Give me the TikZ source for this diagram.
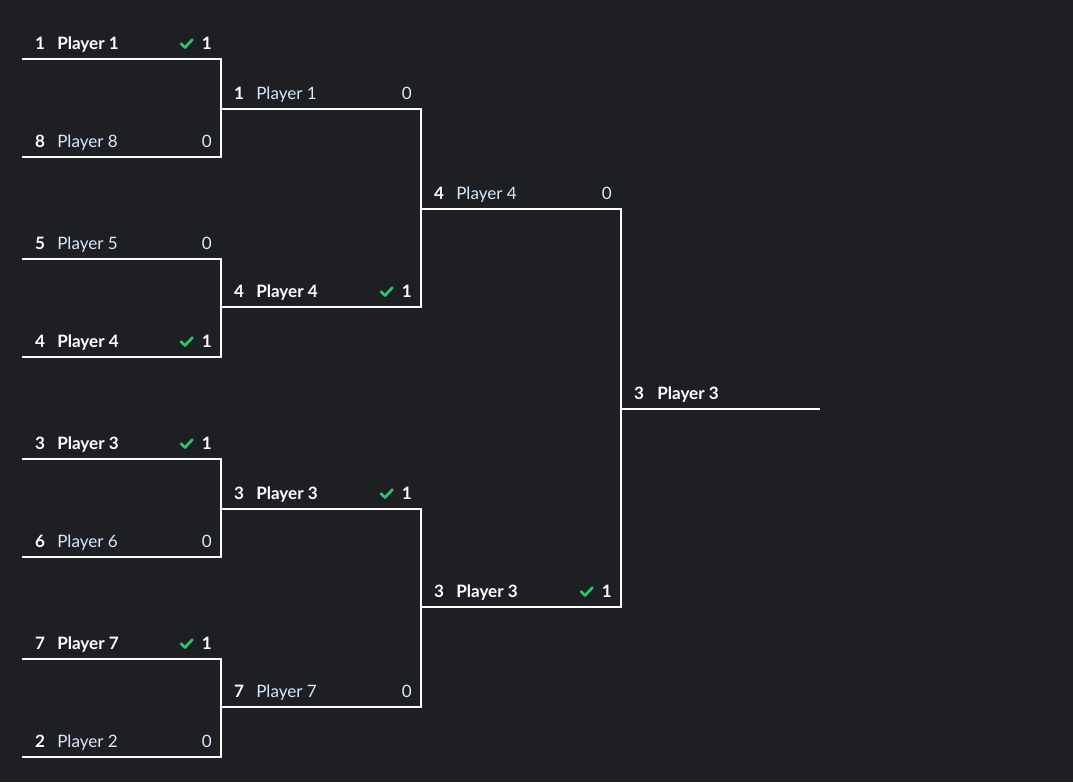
\documentclass[tikz,border=0pt]{standalone}
\usepackage{fontspec}
\setmainfont{Lato}
\usetikzlibrary{calc}
\definecolor{bg}{RGB}{30,31,35}
\definecolor{lose}{RGB}{212,234,255}
\definecolor{ok}{RGB}{40,200,110}
\tikzset{
  bl/.style={draw=white,line width=1.6pt},
  txt/.style={inner sep=0pt,font=\fontsize{12.8}{14}\selectfont},
  seedt/.style={txt,text=white,font=\fontsize{12.8}{14}\selectfont\bfseries,anchor=base},
  wname/.style={txt,text=white,font=\fontsize{12.8}{14}\selectfont\bfseries,anchor=base west},
  lname/.style={txt,text=lose,anchor=base west},
  wscore/.style={txt,text=white,font=\fontsize{12.8}{14}\selectfont\bfseries,anchor=base east},
  lscore/.style={txt,text=lose,anchor=base east},
  tick/.style={draw=ok,line width=2pt,line cap=round,line join=round}
}
% #1 name, #2 x0, #3 x1, #4 y, #5 seed, #6 player, #7 score, #8 win (1/0)
\newcommand\bslot[8]{%
  \coordinate (#1a) at (#2,#4);
  \coordinate (#1b) at (#3,#4);
  \node[seedt] (#1s) at ($(#1a)+(18,-10)$) {#5};
  \ifnum#8=1
    \node[wname] (#1n) at ($(#1a)+(35,-10)$) {#6};
    \node[wscore] (#1c) at ($(#1b)+(-9,-10)$) {#7};
    \draw[tick] ($(#1b)+(-40,-15.5)$) -- ($(#1b)+(-36,-11.5)$) -- ($(#1b)+(-28.5,-19.5)$);
  \else
    \node[lname] (#1n) at ($(#1a)+(35,-10)$) {#6};
    \node[lscore] (#1c) at ($(#1b)+(-9,-10)$) {#7};
  \fi
}
\begin{document}
\begin{tikzpicture}[x=0.75pt,y=-0.75pt]
\fill[bg] (0,0) rectangle (1073,782);
\useasboundingbox (0,0) rectangle (1073,782);
% Round 1
\bslot{a1}{22}{221}{59}{1}{Player 1}{1}{1}
\bslot{a2}{22}{221}{157}{8}{Player 8}{0}{0}
\bslot{a3}{22}{221}{259}{5}{Player 5}{0}{0}
\bslot{a4}{22}{221}{357}{4}{Player 4}{1}{1}
\bslot{a5}{22}{221}{459}{3}{Player 3}{1}{1}
\bslot{a6}{22}{221}{557}{6}{Player 6}{0}{0}
\bslot{a7}{22}{221}{659}{7}{Player 7}{1}{1}
\bslot{a8}{22}{221}{757}{2}{Player 2}{0}{0}
% Round 2
\bslot{b1}{221}{421}{109}{1}{Player 1}{0}{0}
\bslot{b2}{221}{421}{307}{4}{Player 4}{1}{1}
\bslot{b3}{221}{421}{509}{3}{Player 3}{1}{1}
\bslot{b4}{221}{421}{707}{7}{Player 7}{0}{0}
% Round 3
\bslot{c1}{421}{621}{209}{4}{Player 4}{0}{0}
\bslot{c2}{421}{621}{607}{3}{Player 3}{1}{1}
% Final
\coordinate (fa) at (621,409);
\coordinate (fb) at (820,409);
\node[seedt] (fs) at ($(fa)+(18,-10)$) {3};
\node[wname] (fn) at ($(fa)+(36,-10)$) {Player 3};
% lines
\draw[bl] (a1a) -- (a1b) -- (a2b) -- (a2a);
\draw[bl] (a3a) -- (a3b) -- (a4b) -- (a4a);
\draw[bl] (a5a) -- (a5b) -- (a6b) -- (a6a);
\draw[bl] (a7a) -- (a7b) -- (a8b) -- (a8a);
\draw[bl] (b1a) -- (b1b) -- (b2b) -- (b2a);
\draw[bl] (b3a) -- (b3b) -- (b4b) -- (b4a);
\draw[bl] (c1a) -- (c1b) -- (c2b) -- (c2a);
\draw[bl] (fa) -- (fb);
\end{tikzpicture}
\end{document}
